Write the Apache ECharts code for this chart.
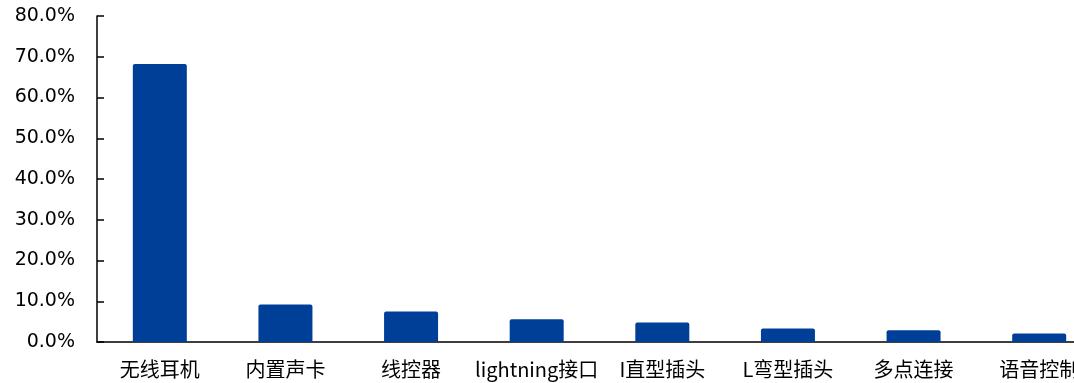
<!DOCTYPE html>
<html>
<head>
	<meta http-equiv="Content-Type" content="text/html; charset=utf-8">
	<title>耳机功能</title>
	<style>
		html, body { margin: 0; padding: 0; background: #fff; }
		#chart { width: 1074px; height: 383px; }
	</style>
</head>
<body>
	<div id="chart"></div>
</body>
<script type="text/javascript" src="https://cdn.jsdelivr.net/npm/echarts@6/dist/echarts.min.js"></script>
<script type="text/javascript">
	var categories = ['无线耳机', '内置声卡', '线控器', 'lightning接口', 'I直型插头', 'L弯型插头', '多点连接', '语音控制'];
	var shares = [68.2, 9.2, 7.5, 5.6, 4.8, 3.3, 2.9, 2.1];
	var yTicks = [0, 10, 20, 30, 40, 50, 60, 70, 80];

	var myChart = echarts.init(document.getElementById('chart'));

	// 图表右侧超出画布，最后一个类目被裁掉一部分
	var option = {
		animation: false,
		grid: {
			left: 97,
			top: 16,
			width: 1005,
			height: 326,
			outerBoundsMode: 'none',
			containLabel: false
		},
		xAxis: {
			type: 'category',
			data: categories,
			axisLine: { lineStyle: { color: '#000', width: 1.5 } },
			axisTick: { inside: true, length: 6, lineStyle: { color: '#000', width: 1.5 } },
			axisLabel: {
				color: '#000',
				fontSize: 20,
				fontFamily: '"Noto Sans CJK SC", sans-serif',
				margin: 17,
				interval: 0
			}
		},
		yAxis: {
			type: 'value',
			min: yTicks[0],
			max: yTicks[yTicks.length - 1],
			interval: 10,
			axisLine: { show: true, lineStyle: { color: '#000', width: 1.5 } },
			axisTick: { show: true, inside: true, length: 7, lineStyle: { color: '#000', width: 1.5 } },
			splitLine: { show: false },
			axisLabel: {
				color: '#000',
				fontSize: 19,
				fontFamily: '"DejaVu Sans", sans-serif',
				margin: 22,
				formatter: function (v) { return v.toFixed(1) + '%'; }
			}
		},
		series: [
			{
				type: 'bar',
				data: shares,
				barWidth: 54,
				itemStyle: { color: '#003f98', borderRadius: [2, 2, 0, 0] }
			}
		]
	};

	myChart.setOption(option);
</script>
</html>
